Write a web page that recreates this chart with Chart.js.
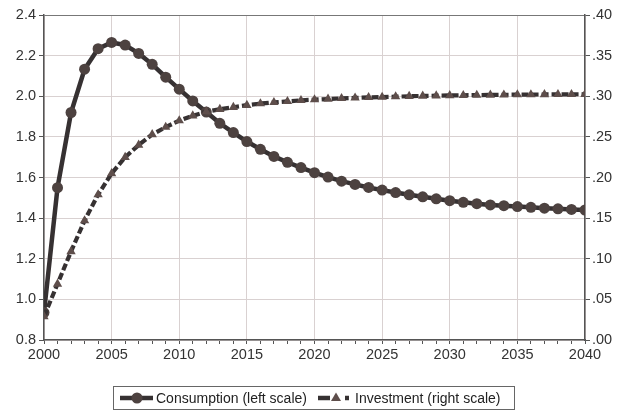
<!DOCTYPE html>
<html>
<head>
<meta charset="utf-8">
<script src="https://cdn.jsdelivr.net/npm/chart.js@4/dist/chart.umd.min.js"></script>
<style>
  html, body { margin: 0; padding: 0; background: #fff; }
  #wrap { width: 619px; height: 411px; }
</style>
</head>
<body>
<div id="wrap"><canvas id="c" width="619" height="411"></canvas></div>
<script>
// Years of the simulation horizon
const years = [2000, 2001, 2002, 2003, 2004, 2005, 2006, 2007, 2008, 2009,
               2010, 2011, 2012, 2013, 2014, 2015, 2016, 2017, 2018, 2019,
               2020, 2021, 2022, 2023, 2024, 2025, 2026, 2027, 2028, 2029,
               2030, 2031, 2032, 2033, 2034, 2035, 2036, 2037, 2038, 2039, 2040];

// Consumption path (left scale)
const consumption = [0.935, 1.55, 1.92, 2.133, 2.234, 2.265, 2.252, 2.211, 2.157, 2.094,
                     2.035, 1.977, 1.922, 1.867, 1.821, 1.777, 1.739, 1.704, 1.675, 1.649,
                     1.624, 1.602, 1.582, 1.566, 1.551, 1.538, 1.526, 1.515, 1.505, 1.495,
                     1.486, 1.478, 1.471, 1.465, 1.461, 1.457, 1.453, 1.449, 1.446, 1.443, 1.44];

// Investment path (right scale)
const investment = [0.029, 0.069, 0.109, 0.147, 0.179, 0.205, 0.225, 0.24, 0.253, 0.262,
                    0.27, 0.276, 0.281, 0.284, 0.2865, 0.289, 0.291, 0.2925, 0.2937, 0.295,
                    0.2958, 0.2966, 0.2974, 0.298, 0.2986, 0.299, 0.2995, 0.3, 0.3004, 0.3007,
                    0.301, 0.3012, 0.3014, 0.3016, 0.3018, 0.302, 0.3021, 0.3022, 0.3023, 0.3024, 0.3025];

const seriesNames = ['Consumption (left scale)', 'Investment (right scale)'];

const FONT = '"Liberation Sans", Arial, sans-serif';
const GRID = '#d9d1d1';
const AXIS = '#555555';
const LABEL = '#333333';

const toPoints = vals => vals.map((v, i) => ({ x: years[i], y: v }));

// Boxed legend drawn under the x axis
const boxLegend = {
  id: 'boxLegend',
  afterDraw(chart) {
    const ctx = chart.ctx;
    const ds = chart.data.datasets;
    ctx.save();
    ctx.strokeStyle = '#666';
    ctx.lineWidth = 1;
    ctx.strokeRect(113.5, 386.5, 401, 23);
    const cy = 398;
    ctx.font = '14px ' + FONT;
    ctx.fillStyle = '#222';
    ctx.textBaseline = 'middle';

    // consumption sample
    ctx.strokeStyle = ds[0].borderColor;
    ctx.lineWidth = 4.5;
    ctx.beginPath(); ctx.moveTo(120, cy); ctx.lineTo(153, cy); ctx.stroke();
    ctx.fillStyle = ds[0].pointBackgroundColor;
    ctx.beginPath(); ctx.arc(137, cy, 5.5, 0, Math.PI * 2); ctx.fill();
    ctx.fillStyle = '#222';
    ctx.fillText(seriesNames[0], 156, cy + 1);

    // investment sample
    ctx.strokeStyle = ds[1].borderColor;
    ctx.lineWidth = 4.5;
    ctx.beginPath(); ctx.moveTo(318, cy); ctx.lineTo(330, cy); ctx.stroke();
    ctx.beginPath(); ctx.moveTo(345, cy); ctx.lineTo(349, cy); ctx.stroke();
    ctx.fillStyle = ds[1].pointBackgroundColor;
    ctx.beginPath();
    ctx.moveTo(336, cy - 5.5); ctx.lineTo(341, cy + 3); ctx.lineTo(331, cy + 3); ctx.closePath();
    ctx.fill();
    ctx.fillStyle = '#222';
    ctx.fillText(seriesNames[1], 355, cy + 1);
    ctx.restore();
  }
};

new Chart(document.getElementById('c'), {
  type: 'line',
  data: {
    datasets: [
      {
        label: seriesNames[0],
        data: toPoints(consumption),
        yAxisID: 'y',
        borderColor: '#363132',
        borderWidth: 4.5,
        pointStyle: 'circle',
        pointRadius: 5.5,
        pointBorderWidth: 0,
        pointBackgroundColor: '#4d4240',
        tension: 0,
        order: 2
      },
      {
        label: seriesNames[1],
        data: toPoints(investment),
        yAxisID: 'y1',
        borderColor: '#363132',
        borderWidth: 4.2,
        borderDash: [7, 3],
        pointStyle: 'triangle',
        pointRadius: 5.4,
        pointBorderWidth: 0,
        pointBackgroundColor: '#5e4e4b',
        tension: 0,
        order: 1
      }
    ]
  },
  options: {
    responsive: false,
    animation: false,
    events: [],
    layout: { padding: { top: 15, left: 0, right: 0, bottom: 0 } },
    plugins: { legend: { display: false }, tooltip: { enabled: false } },
    scales: {
      x: {
        type: 'linear',
        min: 2000,
        max: 2040,
        afterFit(s) { s.height = 71; },
        ticks: {
          stepSize: 1,
          autoSkip: false,
          maxRotation: 0,
          padding: 2,
          color: LABEL,
          font: { family: FONT, size: 14.5 },
          callback: v => (v % 5 === 0 ? String(v) : '')
        },
        grid: {
          color: c => (c.tick && c.tick.value % 5 === 0 ? GRID : 'rgba(0,0,0,0)'),
          tickColor: AXIS,
          tickLength: 4,
          lineWidth: 1
        },
        border: { color: AXIS, width: 1.5 }
      },
      y: {
        position: 'left',
        min: 0.8,
        max: 2.4,
        afterFit(s) { s.width = 44; },
        ticks: {
          stepSize: 0.2,
          padding: 3,
          color: LABEL,
          font: { family: FONT, size: 14.5 },
          callback: v => v.toFixed(1)
        },
        grid: {
          color: c => (c.tick && Math.abs(c.tick.value - 2.4) < 1e-6 ? '#777' : GRID),
          tickColor: AXIS,
          tickLength: 5,
          lineWidth: 1
        },
        border: { color: AXIS, width: 1.5 }
      },
      y1: {
        position: 'right',
        min: 0,
        max: 0.4,
        afterFit(s) { s.width = 34; },
        ticks: {
          stepSize: 0.05,
          padding: 2,
          color: LABEL,
          font: { family: FONT, size: 14.5 },
          callback: v => '.' + v.toFixed(2).split('.')[1]
        },
        grid: {
          drawOnChartArea: false,
          tickColor: AXIS,
          tickLength: 5
        },
        border: { color: AXIS, width: 1.5 }
      }
    }
  },
  plugins: [boxLegend]
});
</script>
</body>
</html>
